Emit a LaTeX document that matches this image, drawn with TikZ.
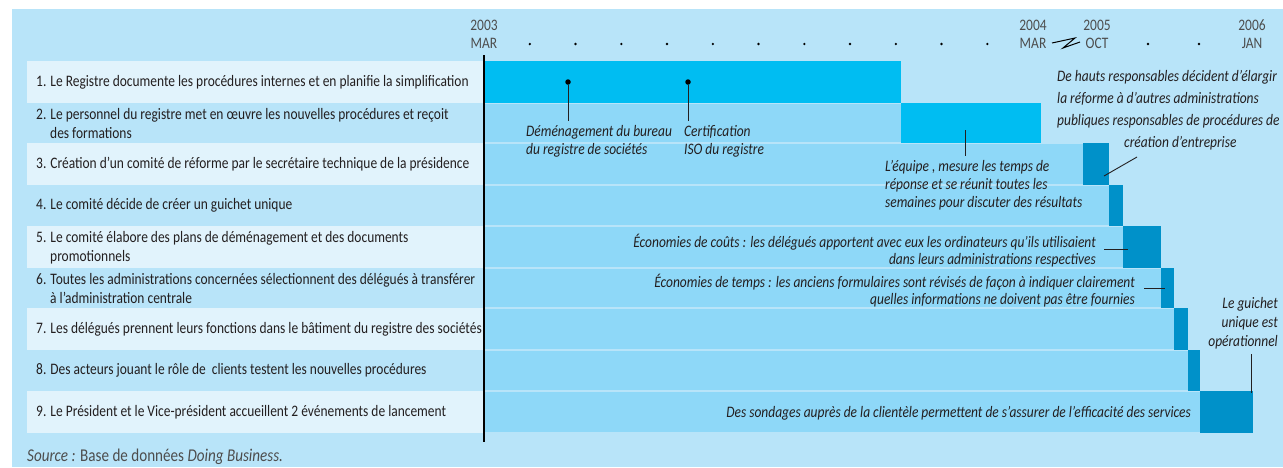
\documentclass[tikz,border=0pt]{standalone}
\usepackage{fontspec}
\setmainfont{Carlito}[FakeStretch=0.84]
\definecolor{fond}{HTML}{B8E4F9}
\definecolor{clair}{HTML}{E1F3FC}
\definecolor{barre}{HTML}{8ED8F8}
\definecolor{vif}{HTML}{00BDF2}
\definecolor{fonce}{HTML}{0091C9}
\definecolor{texte}{HTML}{231F20}
\definecolor{gris}{HTML}{4D4D4D}
\tikzset{
  etape/.style={anchor=west, align=left, inner sep=0pt, text=texte, font=\fontsize{16}{19}\selectfont},
  note/.style={inner sep=0pt, text=texte, font=\itshape\fontsize{16}{18}\selectfont},
  mois/.style={align=center, inner sep=0pt, text=gris, font=\fontsize{16}{18}\selectfont},
  repere/.style={fill=black, circle, inner sep=0pt, minimum size=2.6pt},
  trait/.style={draw=texte, line width=0.9pt}
}
\begin{document}
\begin{tikzpicture}[x=1pt,y=-1pt]
				\pgfmathsetmacro\XD{484}
				\pgfmathsetmacro\XG{27}
				\pgfmathsetmacro\XT{36}
				\useasboundingbox (0,0) rectangle (1283,467);
				\fill[fond] (12,9) rectangle (1283,467);

				\fill[clair] (\XG,61) rectangle (\XD,103);
				\fill[clair] (\XG,143) rectangle (\XD,185);
				\fill[clair] (\XG,226) rectangle (\XD,268);
				\fill[clair] (\XG,308) rectangle (\XD,350);
				\fill[clair] (\XG,391) rectangle (\XD,433);

				\fill[vif] (\XD,61) rectangle (901,103);
				\fill[barre] (\XD,103.7) rectangle (901,142.3);
				\fill[vif] (901,103) rectangle (1041,143);
				\fill[barre] (\XD,143.7) rectangle (1083,184.3);
				\fill[fonce] (1083,143) rectangle (1109,185);
				\fill[barre] (\XD,185.7) rectangle (1109,225.3);
				\fill[fonce] (1109,185) rectangle (1123,226);
				\fill[barre] (\XD,226.7) rectangle (1123,267.3);
				\fill[fonce] (1123,226) rectangle (1161,268);
				\fill[barre] (\XD,268.7) rectangle (1161,307.3);
				\fill[fonce] (1161,268) rectangle (1174,308);
				\fill[barre] (\XD,308.7) rectangle (1174,349.3);
				\fill[fonce] (1174,308) rectangle (1188,350);
				\fill[barre] (\XD,350.7) rectangle (1188,390.3);
				\fill[fonce] (1188,350) rectangle (1200,391);
				\fill[barre] (\XD,391.7) rectangle (1200,432.3);
				\fill[fonce] (1200,391) rectangle (1253,433);

				\coordinate (AxeH) at (\XD,55);
				\coordinate (AxeB) at (\XD,442);
				\draw[line width=1.8pt] (AxeH) -- (AxeB);

				\node[mois] (M2003) at (\XD,34) {2003\\MAR};
				\node[mois] (M2004) at (1033,34) {2004\\MAR};
				\node[mois] (M2005) at (1097,34) {2005\\OCT};
				\node[mois] (M2006) at (1252,34) {2006\\JAN};
				\node[repere] (P1) at (529.8,44) {};
				\node[repere] (P2) at (575.5,44) {};
				\node[repere] (P3) at (621.3,44) {};
				\node[repere] (P4) at (667,44) {};
				\node[repere] (P5) at (712.8,44) {};
				\node[repere] (P6) at (758.5,44) {};
				\node[repere] (P7) at (804.3,44) {};
				\node[repere] (P8) at (850,44) {};
				\node[repere] (P9) at (895.8,44) {};
				\node[repere] (P10) at (941.5,44) {};
				\node[repere] (P11) at (987.3,44) {};
				\node[repere] (P12) at (1148,44) {};
				\node[repere] (P13) at (1199,44) {};
				\draw[line width=1pt] (1052,43) -- (1075,38) -- (1063,48) -- (1080,42);

				\node[etape] (E1) at (\XT,82) {1. Le Registre documente les procédures internes et en planifie la simplification};
				\node[etape] (E2) at (\XT,123) {2. Le personnel du registre met en œuvre les nouvelles procédures et reçoit\\\hspace*{14pt}des formations};
				\node[etape] (E3) at (\XT,164) {3. Création d’un comité de réforme par le secrétaire technique de la présidence};
				\node[etape] (E4) at (\XT,205.5) {4. Le comité décide de créer un guichet unique};
				\node[etape] (E5) at (\XT,248) {5. Le comité élabore des plans de déménagement et des documents\\\hspace*{14pt}promotionnels};
				\node[etape] (E6) at (\XT,288) {6. Toutes les administrations concernées sélectionnent des délégués à transférer\\\hspace*{14pt}à l’administration centrale};
				\node[etape] (E7) at (\XT,329) {7. Les délégués prennent leurs fonctions dans le bâtiment du registre des sociétés};
				\node[etape] (E8) at (\XT,370.5) {8. Des acteurs jouant le rôle de\ \ clients testent les nouvelles procédures};
				\node[etape] (E9) at (\XT,412) {9. Le Président et le Vice-président accueillent 2 événements de lancement};

				\node[repere, minimum size=5.5pt] (DemA) at (568,82) {};
				\coordinate (DemB) at (568,121);
				\node[repere, minimum size=5.5pt] (IsoA) at (688,82) {};
				\coordinate (IsoB) at (688,121);
				\draw[trait] (DemA) -- (DemB);
				\draw[trait] (IsoA) -- (IsoB);
				\node[note, anchor=west, align=left] (NDem) at (526,141) {Déménagement du bureau\\du registre de sociétés};
				\node[note, anchor=west, align=left] (NIso) at (684,141) {Certification\\ISO du registre};

				\coordinate (EquA) at (965,130);
				\coordinate (EquB) at (965,156);
				\draw[trait] (EquA) -- (EquB);
				\node[note, anchor=west, align=left] (NEqu) at (885,185) {L'équipe , mesure les temps de\\réponse et se réunit toutes les\\semaines pour discuter des résultats};

				\coordinate (HauA) at (1137,157);
				\coordinate (HauB) at (1104,176);
				\draw[trait] (HauA) -- (HauB);
				\node[note, anchor=west, align=left, font=\itshape\fontsize{16}{22}\selectfont] (NHau) at (1057,110) {De hauts responsables décident d’élargir\\la réforme à d’autres administrations\\publiques responsables de procédures de\\\hspace*{67pt}création d’entreprise};

				\coordinate (CouA) at (1104,249);
				\coordinate (CouB) at (1128,249);
				\draw[trait] (CouA) -- (CouB);
				\node[note, anchor=east, align=right, font=\itshape\fontsize{16}{17}\selectfont] (NCou) at (1096,250.5) {Économies de coûts : les délégués apportent avec eux les ordinateurs qu’ils utilisaient\\dans leurs administrations respectives};

				\coordinate (TemA) at (1144,288);
				\coordinate (TemB) at (1165,288);
				\draw[trait] (TemA) -- (TemB);
				\node[note, anchor=east, align=right, font=\itshape\fontsize{16}{17}\selectfont] (NTem) at (1135,291) {Économies de temps : les anciens formulaires sont révisés de façon à indiquer clairement\\quelles informations ne doivent pas être fournies};

				\coordinate (GuiA) at (1251,354);
				\coordinate (GuiB) at (1251,393);
				\draw[trait] (GuiA) -- (GuiB);
				\node[note, anchor=east, align=right, font=\itshape\fontsize{16}{19}\selectfont] (NGui) at (1278,323) {Le guichet\\unique est\\opérationnel};

				\node[note, anchor=east] (NSon) at (1191,413) {Des sondages auprès de la clientèle permettent de s’assurer de l’efficacité des services};

				\node[anchor=west, inner sep=0pt, text=gris, font=\fontsize{18}{19}\selectfont] (Src) at (\XG,457) {\textit{Source :} Base de données \textit{Doing Business.}};
			\end{tikzpicture}
\end{document}
